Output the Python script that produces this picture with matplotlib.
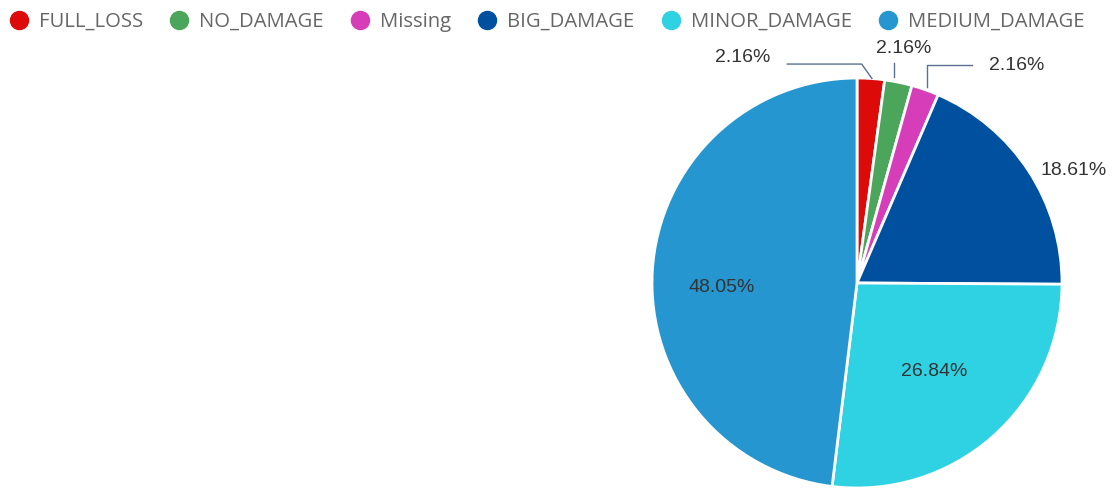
import matplotlib
matplotlib.use("Agg")
import matplotlib.pyplot as plt
from matplotlib.lines import Line2D
import numpy as np

categories = ["FULL_LOSS", "NO_DAMAGE", "Missing", "BIG_DAMAGE", "MINOR_DAMAGE", "MEDIUM_DAMAGE"]
shares = [2.16, 2.16, 2.16, 18.61, 26.84, 48.05]
colors = ["#DD0A0A", "#4BA65B", "#D63DB8", "#0050A0", "#2ED2E2", "#2596D0"]

W, H = 1114, 490
fig = plt.figure(figsize=(W / 100, H / 100), dpi=100)

# pie centre (857, 283) px, radius 205 px
cx, cy, r = 857, 283, 205
ax = fig.add_axes([(cx - r) / W, (H - cy - r) / H, 2 * r / W, 2 * r / H])
ax.pie(shares, colors=colors, startangle=90, counterclock=False,
       wedgeprops=dict(edgecolor="white", linewidth=2))
ax.set_xlim(-1, 1)
ax.set_ylim(-1, 1)
ax.set_aspect("auto")

labels = [f"{v:.2f}%" for v in shares]
txt = dict(fontsize=14, color="#333333", ha="center", va="center",
           family="Liberation Sans", clip_on=False)

# small slices: labels outside with leader lines
ang = np.deg2rad(90 - (np.cumsum(shares) - np.array(shares) / 2) * 3.6)
edge = [(np.cos(a), np.sin(a)) for a in ang]
lc = dict(color="#5a7090", linewidth=1.0, clip_on=False)

x0, y0 = edge[0]
ax.plot([-0.34, x0 - 0.045, x0 + 0.005], [1.068, 1.068, y0], **lc)
ax.text(-0.559, 1.098, labels[0], **txt)

x1, y1 = edge[1]
ax.plot([x1 - 0.022, x1 - 0.022], [y1 + 0.025, 1.073], **lc)
ax.text(0.229, 1.146, labels[1], **txt)

x2, y2 = edge[2]
ax.plot([x2 + 0.008, x2 + 0.008, 0.561], [y2 + 0.015, 1.063, 1.063], **lc)
ax.text(0.78, 1.063, labels[2], **txt)

ax.text(1.059, 0.551, labels[3], **txt)
ax.text(0.376, -0.434, labels[4], **txt)
ax.text(-0.659, -0.02, labels[5], **txt)

handles = [Line2D([0], [0], marker="o", linestyle="", markersize=13,
                  markerfacecolor=c, markeredgecolor=c) for c in colors]
fig.legend(handles, categories, loc="upper left", bbox_to_anchor=(0.0058, 0.976),
           ncol=6, frameon=False, handletextpad=0.38,
           columnspacing=1.2, labelcolor="#666666", handlelength=1.2,
           borderpad=0, borderaxespad=0,
           prop=dict(family="Open Sans", size=14.6))

fig.savefig("out.png", dpi=100)
